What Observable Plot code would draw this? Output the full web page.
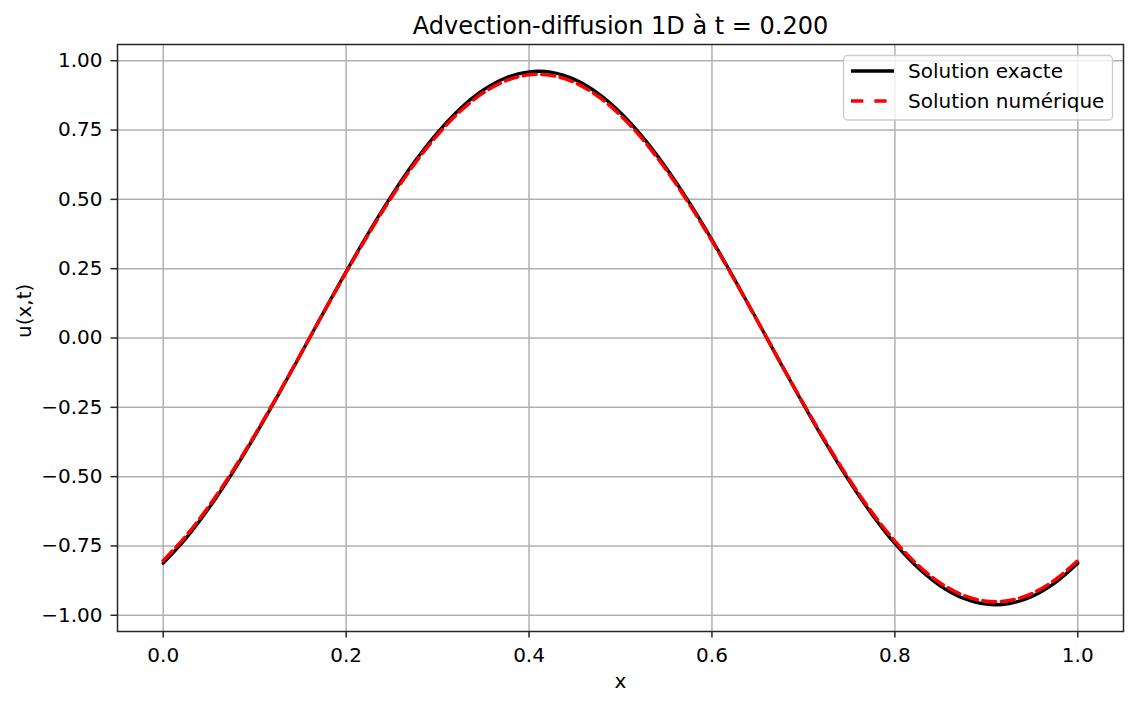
<!DOCTYPE html>
<html>
<head>
<meta charset="utf-8">
<script src="https://cdn.jsdelivr.net/npm/d3@7"></script>
<script src="https://cdn.jsdelivr.net/npm/@observablehq/plot@0.6"></script>
<style>
  body { margin: 0; background: #fff; }
  #chart svg { display: block; }
</style>
</head>
<body>
<div id="chart"></div>
<script>
const title = "Advection-diffusion 1D à t = 0.200";
const xLabel = "x";
const yLabel = "u(x,t)";
const seriesNames = ["Solution exacte", "Solution numérique"];

const xs = [0, 0.025, 0.05, 0.075, 0.1, 0.125, 0.15, 0.175, 0.2, 0.225, 0.25, 0.275, 0.3, 0.325, 0.35, 0.375, 0.4, 0.425, 0.45, 0.475, 0.5,
  0.525, 0.55, 0.575, 0.6, 0.625, 0.65, 0.675, 0.7, 0.725, 0.75, 0.775, 0.8, 0.825, 0.85, 0.875, 0.9, 0.925, 0.95, 0.975, 1.0];

const exact = [-0.8122, -0.7216, -0.6132, -0.4897, -0.3541, -0.2098, -0.0604, 0.0905, 0.2393, 0.3820, 0.5154, 0.6362, 0.7412, 0.8280, 0.8945, 0.9388, 0.9601, 0.9578, 0.9318, 0.8829, 0.8122,
  0.7216, 0.6132, 0.4897, 0.3541, 0.2098, 0.0604, -0.0905, -0.2393, -0.3820, -0.5154, -0.6362, -0.7412, -0.8280, -0.8945, -0.9388, -0.9601, -0.9578, -0.9318, -0.8829, -0.8122];

const numeric = [-0.8029, -0.7134, -0.6062, -0.4841, -0.3501, -0.2074, -0.0597, 0.0895, 0.2366, 0.3776, 0.5095, 0.6289, 0.7327, 0.8186, 0.8843, 0.9281, 0.9492, 0.9469, 0.9212, 0.8728, 0.8029,
  0.7134, 0.6062, 0.4841, 0.3501, 0.2074, 0.0597, -0.0895, -0.2366, -0.3776, -0.5095, -0.6289, -0.7327, -0.8186, -0.8843, -0.9281, -0.9492, -0.9469, -0.9212, -0.8728, -0.8029];

const xTicks = [0, 0.2, 0.4, 0.6, 0.8, 1.0];
const yTicks = [-1, -0.75, -0.5, -0.25, 0, 0.25, 0.5, 0.75, 1];

const exactData = xs.map((x, i) => ({x, y: exact[i]}));
const numData = xs.map((x, i) => ({x, y: numeric[i]}));

const font = "'DejaVu Sans', sans-serif";
const fs = 20;

const plot = Plot.plot({
  width: 1137,
  height: 705,
  marginLeft: 117,
  marginRight: 14,
  marginTop: 44,
  marginBottom: 74,
  style: {fontFamily: font, fontSize: fs + "px", color: "#000", background: "#fff"},
  x: {domain: [-0.05, 1.05]},
  y: {domain: [-1.0585, 1.0585]},
  marks: [
    Plot.gridX(xTicks, {stroke: "#b0b0b0", strokeOpacity: 1, strokeWidth: 1.5}),
    Plot.gridY(yTicks, {stroke: "#b0b0b0", strokeOpacity: 1, strokeWidth: 1.5}),
    Plot.axisX(xTicks, {tickFormat: d3.format(".1f"), tickSize: 6.5, tickPadding: 10, label: null, stroke: "#262626", strokeWidth: 1.5, fill: "#000", fontSize: fs}),
    Plot.axisY(yTicks, {tickFormat: d3.format(".2f"), tickSize: 6.5, tickPadding: 8.5, label: null, stroke: "#262626", strokeWidth: 1.5, fill: "#000", fontSize: fs}),
    Plot.line(exactData, {x: "x", y: "y", stroke: "#000", strokeWidth: 3.3, curve: "catmull-rom"}),
    Plot.line(numData, {x: "x", y: "y", stroke: "#ff0000", strokeWidth: 3.5, strokeDasharray: "13,5.6", curve: "catmull-rom"}),
    Plot.frame({stroke: "#262626", strokeWidth: 1.5}),
    Plot.text([title], {frameAnchor: "top", lineAnchor: "bottom", dy: -11, fontSize: 24, fill: "#000"}),
    Plot.text([xLabel], {frameAnchor: "bottom", lineAnchor: "middle", dy: 50, fontSize: fs, fill: "#000"}),
    Plot.text([yLabel], {frameAnchor: "left", lineAnchor: "middle", rotate: -90, dx: -93, fontSize: fs, fill: "#000"})
  ]
});

document.getElementById("chart").appendChild(plot);

// Legend
const svg = d3.select(plot);
const lg = svg.append("g").attr("font-family", font).attr("font-size", fs).attr("text-anchor", "start");
lg.append("rect").attr("x", 843.5).attr("y", 55.5).attr("width", 269).attr("height", 64.5)
  .attr("rx", 4).attr("fill", "#fff").attr("fill-opacity", 0.8).attr("stroke", "#cccccc").attr("stroke-width", 1.3);
const legendStyles = [
  {stroke: "#000", dash: null, width: 3.5},
  {stroke: "#ff0000", dash: "12.3,11", width: 3.5}
];
seriesNames.forEach((name, i) => {
  const cy = 71 + i * 30;
  const ln = lg.append("line").attr("x1", 851).attr("x2", 889 + (i === 0 ? 5 : 0)).attr("y1", cy).attr("y2", cy)
    .attr("stroke", legendStyles[i].stroke).attr("stroke-width", legendStyles[i].width);
  if (legendStyles[i].dash) ln.attr("stroke-dasharray", legendStyles[i].dash);
  lg.append("text").attr("x", 908).attr("y", cy).attr("dy", "0.35em").attr("text-anchor", "start").attr("fill", "#000").text(name);
});
</script>
</body>
</html>
